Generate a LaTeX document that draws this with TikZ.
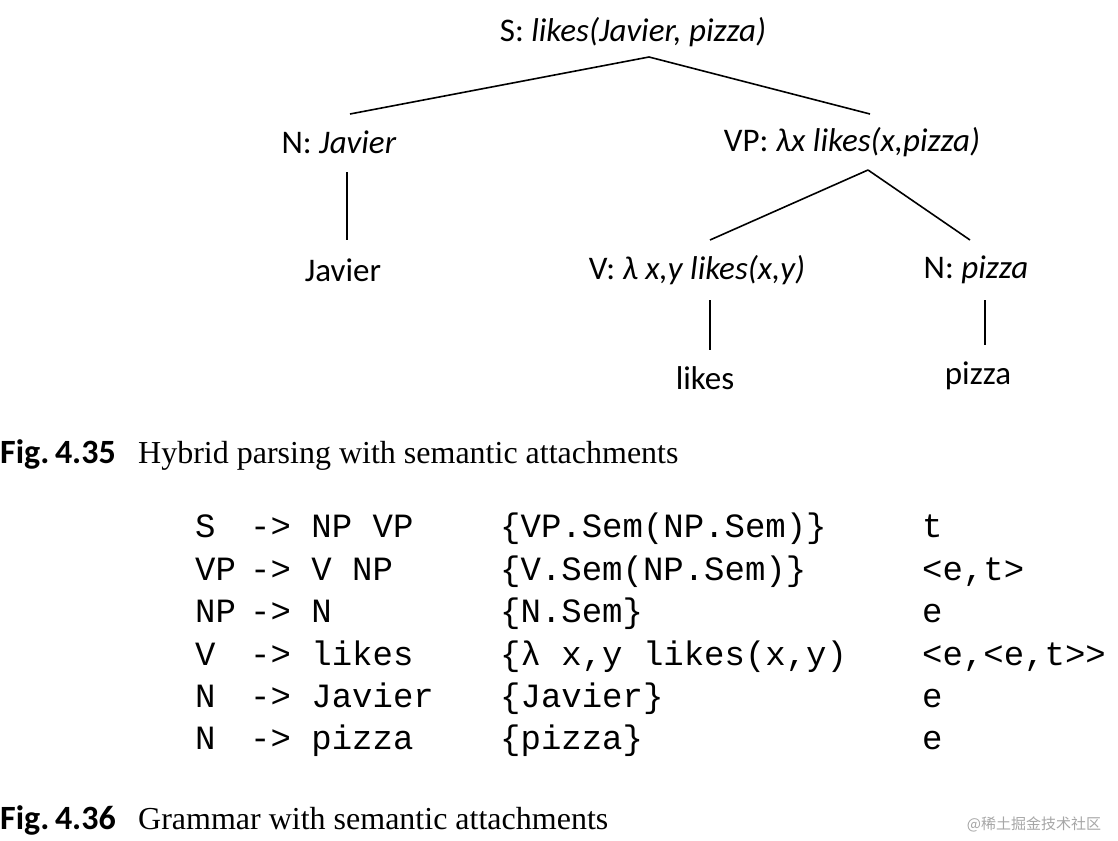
\documentclass[tikz,border=0pt]{standalone}
\usepackage{fontspec}
\usetikzlibrary{calc}
\setmainfont{Liberation Serif}
\newfontfamily\treef{Carlito}
\newfontfamily\monof{Liberation Mono}
\newfontfamily\cjkf{Noto Sans CJK SC}
\newcommand\grow[6]{%
  \node[g] (l#1) at (195,#2) {#3};
  \node[g] (r#1) at (250,#2) {-> #4};
  \node[g] (s#1) at (500,#2) {#5};
  \node[g] (ty#1) at (922,#2) {#6};}
\begin{document}
\begin{tikzpicture}[x=1pt,y=-1pt,
  t/.style={font=\treef\fontsize{33}{38}\selectfont,inner sep=0pt},
  g/.style={font=\monof\fontsize{34}{40}\selectfont,anchor=base west,inner sep=0pt},
  capt/.style={anchor=base west,inner sep=0pt},
  e/.style={line width=1.6pt}]
\useasboundingbox (0,0) rectangle (1118,840);
\node[t] (S) at (633,32) {S: \textit{likes(Javier, pizza)}};
\node[t] (NJ) at (339,142) {N: \textit{Javier}};
\node[t] (VP) at (852,142) {VP: \textit{λx likes(x,pizza)}};
\node[t] (J) at (343,270) {Javier};
\node[t] (V) at (697,270) {V: \textit{λ x,y likes(x,y)}};
\node[t] (NP) at (976,270) {N: \textit{pizza}};
\node[t] (L) at (705,378) {likes};
\node[t] (P) at (978,376) {pizza};
\draw[e] ($(S)+(16,25)$) -- ($(NJ)+(11,-28)$);
\draw[e] ($(S)+(16,25)$) -- ($(VP)+(18,-28)$);
\draw[e] ($(NJ)+(8,30)$) -- ($(J)+(4,-30)$);
\draw[e] ($(VP)+(16,28)$) -- ($(V)+(13,-30)$);
\draw[e] ($(VP)+(16,28)$) -- ($(NP)+(-6,-30)$);
\draw[e] ($(V)+(13,30)$) -- ($(L)+(5,-28)$);
\draw[e] ($(NP)+(9,30)$) -- ($(P)+(7,-31)$);
\node[capt] (c1) at (0,463) {\treef\bfseries\fontsize{34}{38}\selectfont Fig.\,4.35};
\node[capt] (c1t) at (138,463) {\fontsize{32}{36}\selectfont Hybrid parsing with semantic attachments};
\grow{1}{537}{S}{NP VP}{\{VP.Sem(NP.Sem)\}}{t}
\grow{2}{580}{VP}{V NP}{\{V.Sem(NP.Sem)\}}{<e,t>}
\grow{3}{622}{NP}{N}{\{N.Sem\}}{e}
\grow{4}{665}{V}{likes}{\{λ x,y likes(x,y)}{<e,<e,t>>}
\grow{5}{707}{N}{Javier}{\{Javier\}}{e}
\grow{6}{749}{N}{pizza}{\{pizza\}}{e}
\node[capt] (c2) at (0,829) {\treef\bfseries\fontsize{34}{38}\selectfont Fig.\,4.36};
\node[capt] (c2t) at (138,829) {\fontsize{32}{36}\selectfont Grammar with semantic attachments};
\node[inner sep=0pt,text=black!35] (wm) at (1034,824) {\cjkf\fontsize{15}{18}\selectfont @稀土掘金技术社区};
\end{tikzpicture}
\end{document}
